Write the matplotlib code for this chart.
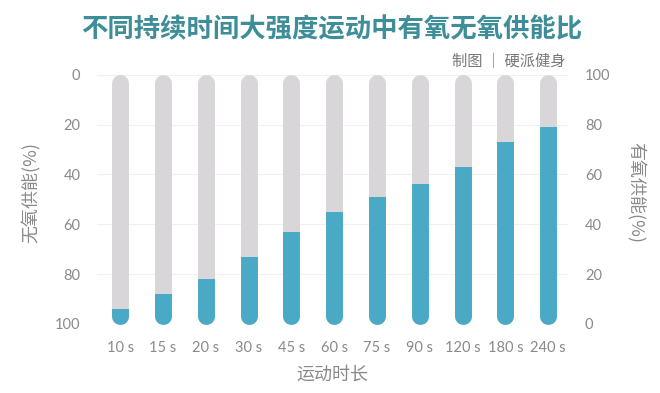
import matplotlib.pyplot as plt
import matplotlib.patches as mpatches
import numpy as np

plt.rcParams['font.family'] = ['Noto Sans CJK SC', 'DejaVu Sans']

durations = ['10 s', '15 s', '20 s', '30 s', '45 s', '60 s', '75 s',
             '90 s', '120 s', '180 s', '240 s']
aerobic = [6, 12, 18, 27, 37, 45, 51, 56, 63, 73, 79]
yticks = [0, 20, 40, 60, 80, 100]

grey = '#d8d6d9'
blue = '#4aaac6'
txt = '#8a8a8a'
numfont = ['Lato', 'DejaVu Sans']

fig = plt.figure(figsize=(6.6, 3.93), dpi=100)
ax = fig.add_axes([0.147, 0.1756, 0.714, 0.634])
ax.set_xlim(-0.54, 10.47)
ax.set_ylim(0, 100)

lw = 12.2          # bar width in points (~17 px)
r = 3.4            # cap radius in data units
x = np.arange(len(durations))
for xi, v in zip(x, aerobic):
    ax.plot([xi, xi], [r, 100 - r], color=grey, lw=lw,
            solid_capstyle='round', zorder=2)
    ln, = ax.plot([xi, xi], [r, 100 - r], color=blue, lw=lw,
                  solid_capstyle='round', zorder=3)
    clip = mpatches.Rectangle((xi - 0.5, -10), 1, v + 10,
                              transform=ax.transData)
    ln.set_clip_path(clip)

for t in yticks:
    ax.axhline(t, color='#f0f0f0', lw=0.8, zorder=1)

for s in ax.spines.values():
    s.set_visible(False)

ax.set_xticks(x)
ax.set_xticklabels(durations, fontsize=10.5, color=txt, family=numfont)
ax.set_yticks(yticks)
ax.set_yticklabels([str(100 - t) for t in yticks], fontsize=10.5, color=txt,
                   family=numfont)
ax.tick_params(length=0, pad=12)
ax.tick_params(axis='y', pad=12)

ax2 = ax.twinx()
ax2.set_ylim(0, 100)
ax2.set_yticks(yticks)
ax2.set_yticklabels([str(t) for t in yticks], fontsize=10.5, color=txt,
                    family=numfont)
ax2.tick_params(length=0, pad=12)
for s in ax2.spines.values():
    s.set_visible(False)

ax.set_xlabel('运动时长', fontsize=13, color=txt, labelpad=8)
fig.text(0.047, 0.51, '无氧供能(%)', rotation=90, fontsize=13, color=txt,
         ha='center', va='center')
fig.text(0.962, 0.51, '有氧供能(%)', rotation=270, fontsize=13, color=txt,
         ha='center', va='center')

fig.text(0.502, 0.925, '不同持续时间大强度运动中有氧无氧供能比', fontsize=19,
         color='#3d8e99', ha='center', va='center', weight='bold')
fig.text(0.857, 0.843, '制图 ｜ 硬派健身', fontsize=11, color='#777777',
         ha='right', va='center')

fig.savefig('out.png', dpi=100, facecolor='white')
